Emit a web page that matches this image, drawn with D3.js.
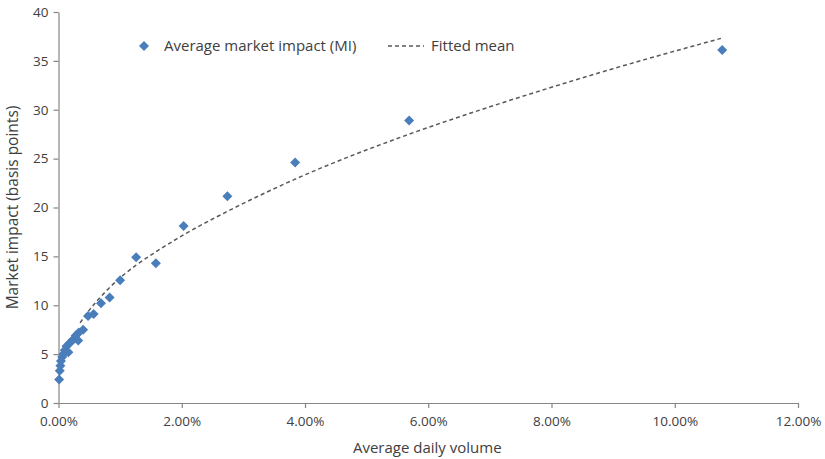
<!DOCTYPE html>
<html>
<head>
<meta charset="utf-8">
<script src="https://cdn.jsdelivr.net/npm/d3@7"></script>
<style>
  body { margin: 0; background: #fff; }
  text { font-family: "Open Sans", "Noto Sans", sans-serif; fill: #404040; }
</style>
</head>
<body>
<div id="chart"></div>
<script>
// average daily volume (%) and market impact (bps)
var adv = [0.01, 0.02, 0.03, 0.04, 0.06, 0.08, 0.10, 0.13, 0.16, 0.18, 0.22, 0.26,
           0.28, 0.32, 0.33, 0.40, 0.48, 0.57, 0.69, 0.83, 1.00, 1.26, 1.58, 2.03,
           2.74, 3.84, 5.69, 10.77];
var impact = [2.4, 3.3, 3.8, 4.3, 4.7, 5.0, 5.4, 5.8, 5.2, 6.1, 6.4, 6.6,
              6.9, 6.4, 7.2, 7.5, 8.9, 9.1, 10.2, 10.8, 12.55, 14.9, 14.3, 18.1,
              21.15, 24.6, 28.9, 36.1];

// fitted mean curve
var fitX = [0.35, 0.5, 0.75, 1.0, 1.26, 1.59, 2.03, 2.74, 3.84, 5.69, 7.0, 8.0, 9.0, 10.75];
var fitY = [8.2, 9.5, 11.3, 12.8, 14.1, 15.5, 17.2, 19.6, 22.9, 27.5, 30.3, 32.3, 34.2, 37.3];

var xTicks = [0, 2, 4, 6, 8, 10, 12];
var yTicks = [0, 5, 10, 15, 20, 25, 30, 35, 40];

var W = 825, H = 459;
var margin = {top: 12, left: 58.5, right: 27, bottom: 56};

var svg = d3.select("#chart").append("svg")
    .attr("width", W)
    .attr("height", H);

var x = d3.scaleLinear().domain([0, 12]).range([margin.left, W - margin.right]);
var y = d3.scaleLinear().domain([0, 40]).range([H - margin.bottom, margin.top]);

var axisColor = "#868686";

var xAxis = d3.axisBottom(x).tickValues(xTicks).tickSize(5).tickSizeOuter(0)
    .tickFormat(function(d){ return d.toFixed(2) + "%"; });
var yAxis = d3.axisLeft(y).tickValues(yTicks).tickSize(5).tickSizeOuter(0);

var gx = svg.append("g")
    .attr("transform", "translate(0," + y(0) + ")")
    .call(xAxis);
var gy = svg.append("g")
    .attr("transform", "translate(" + x(0) + ",0)")
    .call(yAxis);

[gx, gy].forEach(function(g){
    g.select(".domain").attr("stroke", axisColor).attr("stroke-width", 1.2);
    g.selectAll(".tick line").attr("stroke", axisColor).attr("stroke-width", 1.2);
    g.selectAll(".tick text").style("font-size", "13.5px").attr("fill", "#404040");
});
gx.selectAll(".tick text").attr("dy", "1.1em");
gy.selectAll(".tick text").attr("x", -10);

// axis titles
svg.append("text")
    .attr("x", (x(0) + x(12)) / 2 - 1)
    .attr("y", 453)
    .attr("text-anchor", "middle")
    .style("font-size", "15px")
    .text("Average daily volume");

svg.append("text")
    .attr("text-anchor", "middle")
    .attr("transform", "translate(18," + ((y(0) + y(40)) / 2) + ")rotate(-90)")
    .style("font-size", "15.5px")
    .text("Market impact (basis points)");

// fitted mean
var fit = fitX.map(function(d, i){ return [d, fitY[i]]; });
var line = d3.line()
    .x(function(d){ return x(d[0]); })
    .y(function(d){ return y(d[1]); })
    .curve(d3.curveMonotoneX);

svg.append("path")
    .datum(fit)
    .attr("d", line)
    .attr("fill", "none")
    .attr("stroke", "#595959")
    .attr("stroke-width", 1.5)
    .attr("stroke-dasharray", "4,3");

// points
var pts = adv.map(function(d, i){ return [d, impact[i]]; });
var diamond = d3.symbol().type(d3.symbolSquare).size(50);
var blue = "#4a7ebb";

svg.append("g")
    .selectAll("path")
    .data(pts)
    .enter()
    .append("path")
    .attr("d", diamond)
    .attr("fill", blue)
    .attr("transform", function(d){ return "translate(" + x(d[0]) + "," + y(d[1]) + ")rotate(45)"; });

// legend
var lg = svg.append("g");
lg.append("path")
    .attr("d", diamond)
    .attr("fill", blue)
    .attr("transform", "translate(144,46)rotate(45)");
lg.append("text")
    .attr("x", 164).attr("y", 51)
    .style("font-size", "15px")
    .text("Average market impact (MI)");
lg.append("line")
    .attr("x1", 388).attr("x2", 424)
    .attr("y1", 46).attr("y2", 46)
    .attr("stroke", "#595959")
    .attr("stroke-width", 1.5)
    .attr("stroke-dasharray", "4,3");
lg.append("text")
    .attr("x", 431).attr("y", 51)
    .style("font-size", "15px")
    .text("Fitted mean");
</script>
</body>
</html>
